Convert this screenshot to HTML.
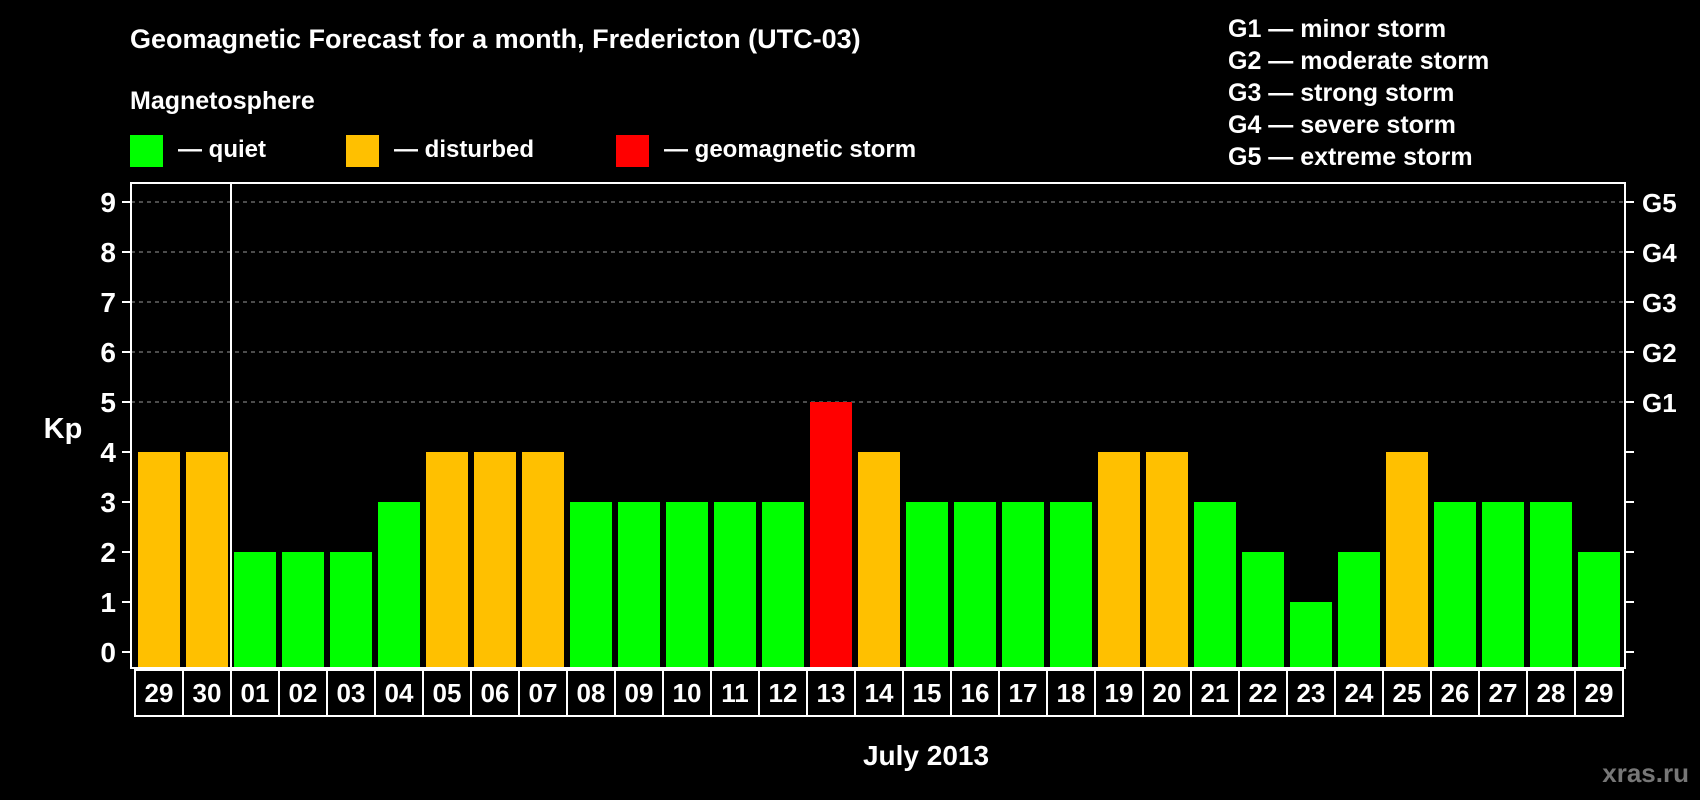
<!DOCTYPE html>
<html><head><meta charset="utf-8"><style>
html,body{margin:0;padding:0;background:#000;}
svg{display:block;font-family:"Liberation Sans",Arial,sans-serif;font-weight:bold;}
</style></head><body>
<svg id="chart" width="1700" height="800" viewBox="0 0 1700 800">
<text x="130" y="48" font-size="27" fill="#fff">Geomagnetic Forecast for a month, Fredericton (UTC-03)</text>
<text x="130" y="109" font-size="25" fill="#fff">Magnetosphere</text>
<g><rect x="130" y="135" width="33" height="32" fill="#00ff00"/><text x="178" y="157" font-size="24" fill="#fff">— quiet</text></g>
<g><rect x="346" y="135" width="33" height="32" fill="#ffc000"/><text x="394" y="157" font-size="24" fill="#fff">— disturbed</text></g>
<g><rect x="616" y="135" width="33" height="32" fill="#ff0000"/><text x="664" y="157" font-size="24" fill="#fff">— geomagnetic storm</text></g>
<g font-size="25" fill="#fff">
<text x="1228" y="37">G1 — minor storm</text>
<text x="1228" y="69">G2 — moderate storm</text>
<text x="1228" y="101">G3 — strong storm</text>
<text x="1228" y="133">G4 — severe storm</text>
<text x="1228" y="165">G5 — extreme storm</text>
</g>
<g id="grid"></g>
<g id="bars"></g>
<g id="axes"></g>
<text x="63" y="438" font-size="29" fill="#fff" text-anchor="middle">Kp</text>
<text x="926" y="765" font-size="28" fill="#fff" text-anchor="middle">July 2013</text>
<text x="1689" y="782" font-size="26" fill="#777" text-anchor="end">xras.ru</text>
</svg>
<script>
const days = ["29","30","01","02","03","04","05","06","07","08","09","10","11","12","13","14","15","16","17","18","19","20","21","22","23","24","25","26","27","28","29"];
const kpValues = [4,4,2,2,2,3,4,4,4,3,3,3,3,3,5,4,3,3,3,3,4,4,3,2,1,2,4,3,3,3,2];
const yTicks = [0,1,2,3,4,5,6,7,8,9];
const gLabels = ["G1","G2","G3","G4","G5"];
const gLevels = [5,6,7,8,9];

const NS = "http://www.w3.org/2000/svg";
const L = 131, R = 1625, T = 183, B = 668, boxL = 135, pitch = 48;
const y = v => 652 - v * 50;
const x = i => boxL + i * pitch;
function mk(tag, attrs, parent) {
  const e = document.createElementNS(NS, tag);
  for (const k in attrs) e.setAttribute(k, attrs[k]);
  parent.appendChild(e); return e;
}
const grid = document.getElementById('grid'), bars = document.getElementById('bars'), axes = document.getElementById('axes');
gLevels.forEach(v => {
  const ln = mk('line', {x1: L, x2: R, y1: y(v), y2: y(v), stroke: '#999', 'stroke-width': 1, 'stroke-dasharray': '4,4'}, grid);
  
  
});
kpValues.forEach((v, i) => {
  const c = v >= 5 ? '#ff0000' : (v >= 4 ? '#ffc000' : '#00ff00');
  const r = mk('rect', {x: x(i) + 3, y: y(v), width: 42, height: B - y(v), fill: c}, bars);
  
  
});
const frame = mk('rect', {x: L, y: T, width: R - L, height: B - T, fill: 'none', stroke: '#fff', 'stroke-width': 2}, axes);


const sep = mk('line', {x1: x(2), x2: x(2), y1: T, y2: B, stroke: '#fff', 'stroke-width': 2}, axes);


yTicks.forEach(v => {
  mk('line', {x1: L - 9, x2: L, y1: y(v), y2: y(v), stroke: '#fff', 'stroke-width': 2}, axes);
  mk('line', {x1: R, x2: R + 9, y1: y(v), y2: y(v), stroke: '#fff', 'stroke-width': 2}, axes);
  const t = mk('text', {x: 116, y: y(v) + 10, 'font-size': 28, fill: '#fff', 'text-anchor': 'end'}, axes);
  t.textContent = v;
  
  
});
gLevels.forEach((v, i) => {
  const t = mk('text', {x: 1642, y: y(v) + 10, 'font-size': 26, fill: '#fff'}, axes);
  t.textContent = gLabels[i];
  
  
});
days.forEach((d, i) => {
  const b = mk('rect', {x: x(i), y: 670, width: pitch, height: 46, fill: '#000', stroke: '#fff', 'stroke-width': 2}, axes);
  
  
  const t = mk('text', {x: x(i) + pitch / 2, y: 702, 'font-size': 26, fill: '#fff', 'text-anchor': 'middle'}, axes);
  t.textContent = d;
  
  
});
</script>
</body></html>
